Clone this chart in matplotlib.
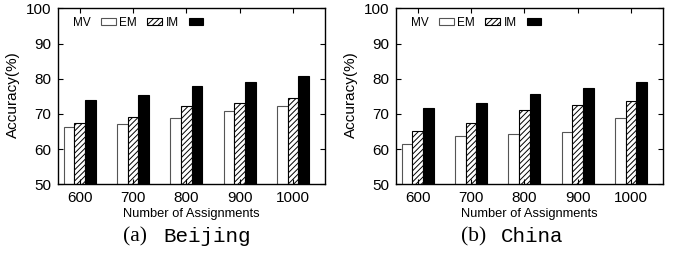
import numpy as np
import matplotlib
matplotlib.use('Agg')
import matplotlib.pyplot as plt

plt.rcParams['font.family'] = 'Liberation Sans'
plt.rcParams['hatch.linewidth'] = 0.7

assignments = ['600', '700', '800', '900', '1000']
methods = ['MV', 'EM', 'IM']

beijing_mv = [66.4, 67.0, 68.8, 70.7, 72.3]
beijing_em = [67.3, 69.0, 72.3, 73.1, 74.4]
beijing_im = [74.0, 75.5, 77.8, 79.1, 80.8]

china_mv = [61.4, 63.7, 64.2, 64.8, 68.9]
china_em = [65.1, 67.4, 71.1, 72.4, 73.8]
china_im = [71.7, 73.1, 75.6, 77.4, 79.1]

fig = plt.figure(figsize=(6.78, 2.61), dpi=100)
ax1 = fig.add_axes([0.086, 0.294, 0.3934, 0.674])
ax2 = fig.add_axes([0.5845, 0.294, 0.3934, 0.674])

x = np.arange(len(assignments))
w = 0.2
styles = [dict(facecolor='white', edgecolor='#555555', hatch=None),
          dict(facecolor='white', edgecolor='black', hatch='//////'),
          dict(facecolor='black', edgecolor='black', hatch=None)]


def draw(ax, series):
    for i, (vals, st) in enumerate(zip(series, styles)):
        ax.bar(x + (i - 1) * w, vals, w, facecolor=st['facecolor'],
               edgecolor=st['edgecolor'], hatch=st['hatch'],
               linewidth=0.8, label=methods[i])
    ax.set_xlim(-0.4, 4.6)
    ax.set_ylim(50, 100)
    ax.set_yticks([50, 60, 70, 80, 90, 100])
    ax.set_xticks(x)
    ax.set_xticklabels(assignments)
    ax.tick_params(direction='in', length=3.5, width=0.8, labelsize=11,
                   top=True, right=True, pad=5)
    for s in ax.spines.values():
        s.set_linewidth(1.0)
    ax.set_xlabel('Number of Assignments', fontsize=9.3, labelpad=2)
    ax.set_ylabel('Accuracy(%)', fontsize=11)
    ax.yaxis.set_label_coords(-0.145, 0.51)
    ax.legend(loc='upper left', ncol=3, frameon=False, markerfirst=False,
              fontsize=8.5, handlelength=1.25, handleheight=0.5,
              handletextpad=0.85, columnspacing=0.3,
              bbox_to_anchor=(0.025, 1.0), borderaxespad=0.3)


draw(ax1, [beijing_mv, beijing_em, beijing_im])
draw(ax2, [china_mv, china_em, china_im])

fig.text(0.1814, 0.073, '(a)', family='Liberation Serif', fontsize=15.5, va='baseline')
fig.text(0.2404, 0.073, 'Beijing', family='Liberation Mono', fontsize=15, va='baseline')
fig.text(0.680, 0.073, '(b)', family='Liberation Serif', fontsize=15.5, va='baseline')
fig.text(0.739, 0.073, 'China', family='Liberation Mono', fontsize=15, va='baseline')

fig.savefig('out.png', dpi=100)
